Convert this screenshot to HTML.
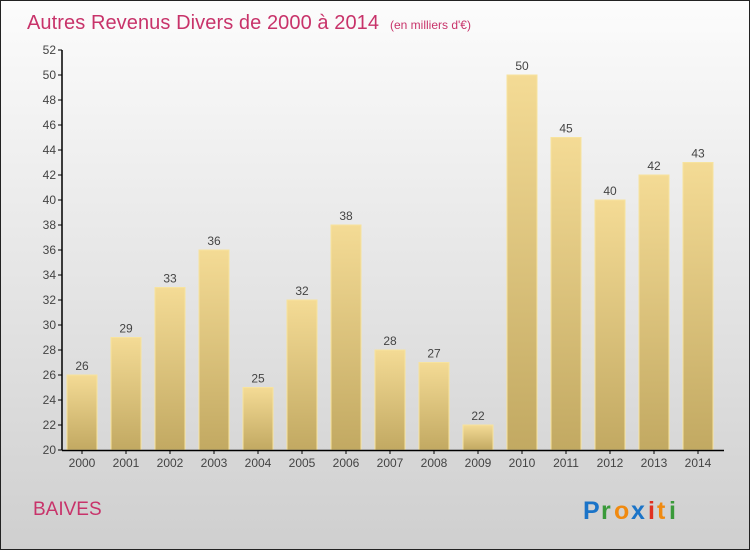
<!DOCTYPE html>
<html><head><meta charset="utf-8"><style>
body{margin:0;}
#c{width:748px;height:548px;border:1px solid #222;background:linear-gradient(#fcfcfc,#cfcfcf);position:relative;font-family:"Liberation Sans",sans-serif;overflow:hidden}
</style></head><body>
<div id="c">
<svg id="s" width="748" height="548" style="position:absolute;left:0;top:0">
<defs><linearGradient id="bg" x1="0" y1="0" x2="0" y2="1"><stop offset="0" stop-color="#f4db95"/><stop offset="1" stop-color="#c2a962"/></linearGradient></defs>
<text x="26" y="28" font-size="20" fill="#c8336a" textLength="352">Autres Revenus Divers de 2000 à 2014</text>
<text x="389" y="28" font-size="12" fill="#c8336a">(en milliers d'€)</text>
<text x="32" y="514" font-size="19" fill="#c8336a">BAIVES</text>
<g font-size="25" font-weight="bold">
<text x="582" y="518" fill="#1b74c8">P</text><text x="600" y="518" fill="#3a9a3a">r</text><text x="613" y="518" fill="#f08a10">o</text><text x="630" y="518" fill="#1b74c8">x</text><text x="647" y="518" fill="#e03020">i</text><text x="656" y="518" fill="#f08a10">t</text><text x="668" y="518" fill="#3a9a3a">i</text>
</g>
<g id="g"></g>
</svg>
</div>
<script>
const years=["2000","2001","2002","2003","2004","2005","2006","2007","2008","2009","2010","2011","2012","2013","2014"];
const values=[26,29,33,36,25,32,38,28,27,22,50,45,40,42,43];
const yTicks=[20,22,24,26,28,30,32,34,36,38,40,42,44,46,48,50,52];
const g=document.getElementById('g');
const NS='http://www.w3.org/2000/svg';
const y=v=>449-(v-20)*12.5;
const x=i=>81+i*44;
function mk(t,a){const e=document.createElementNS(NS,t);for(const k in a)e.setAttribute(k,a[k]);g.appendChild(e);return e;}
yTicks.forEach(v=>{
 const t=mk('line',{x1:57,x2:61,y1:y(v),y2:y(v),stroke:'#000'});
 
 
 const l=mk('text',{x:55,y:y(v)+4,'text-anchor':'end','font-size':12,fill:'#444'});l.textContent=v;
 
 
});
values.forEach((v,i)=>{
 const b=mk('rect',{x:x(i)-15,y:y(v),width:30,height:y(20)-y(v),fill:'url(#bg)',stroke:'#f7e39e','stroke-width':1});
 
 
 const l=mk('text',{x:x(i),y:y(v)-5,'text-anchor':'middle','font-size':12,fill:'#444'});l.textContent=v;
 
 
 const xl=mk('text',{x:x(i),y:466,'text-anchor':'middle','font-size':12,fill:'#444'});xl.textContent=years[i];
 
 
 const tk=mk('line',{x1:x(i),x2:x(i),y1:449,y2:453,stroke:'#000'});
 
 
});
const ya=mk('line',{x1:61,x2:61,y1:y(52),y2:449.5,stroke:'#000','stroke-width':1.5});


const xa=mk('line',{x1:61,x2:723,y1:449.5,y2:449.5,stroke:'#000','stroke-width':1.5});


</script>
</body></html>
